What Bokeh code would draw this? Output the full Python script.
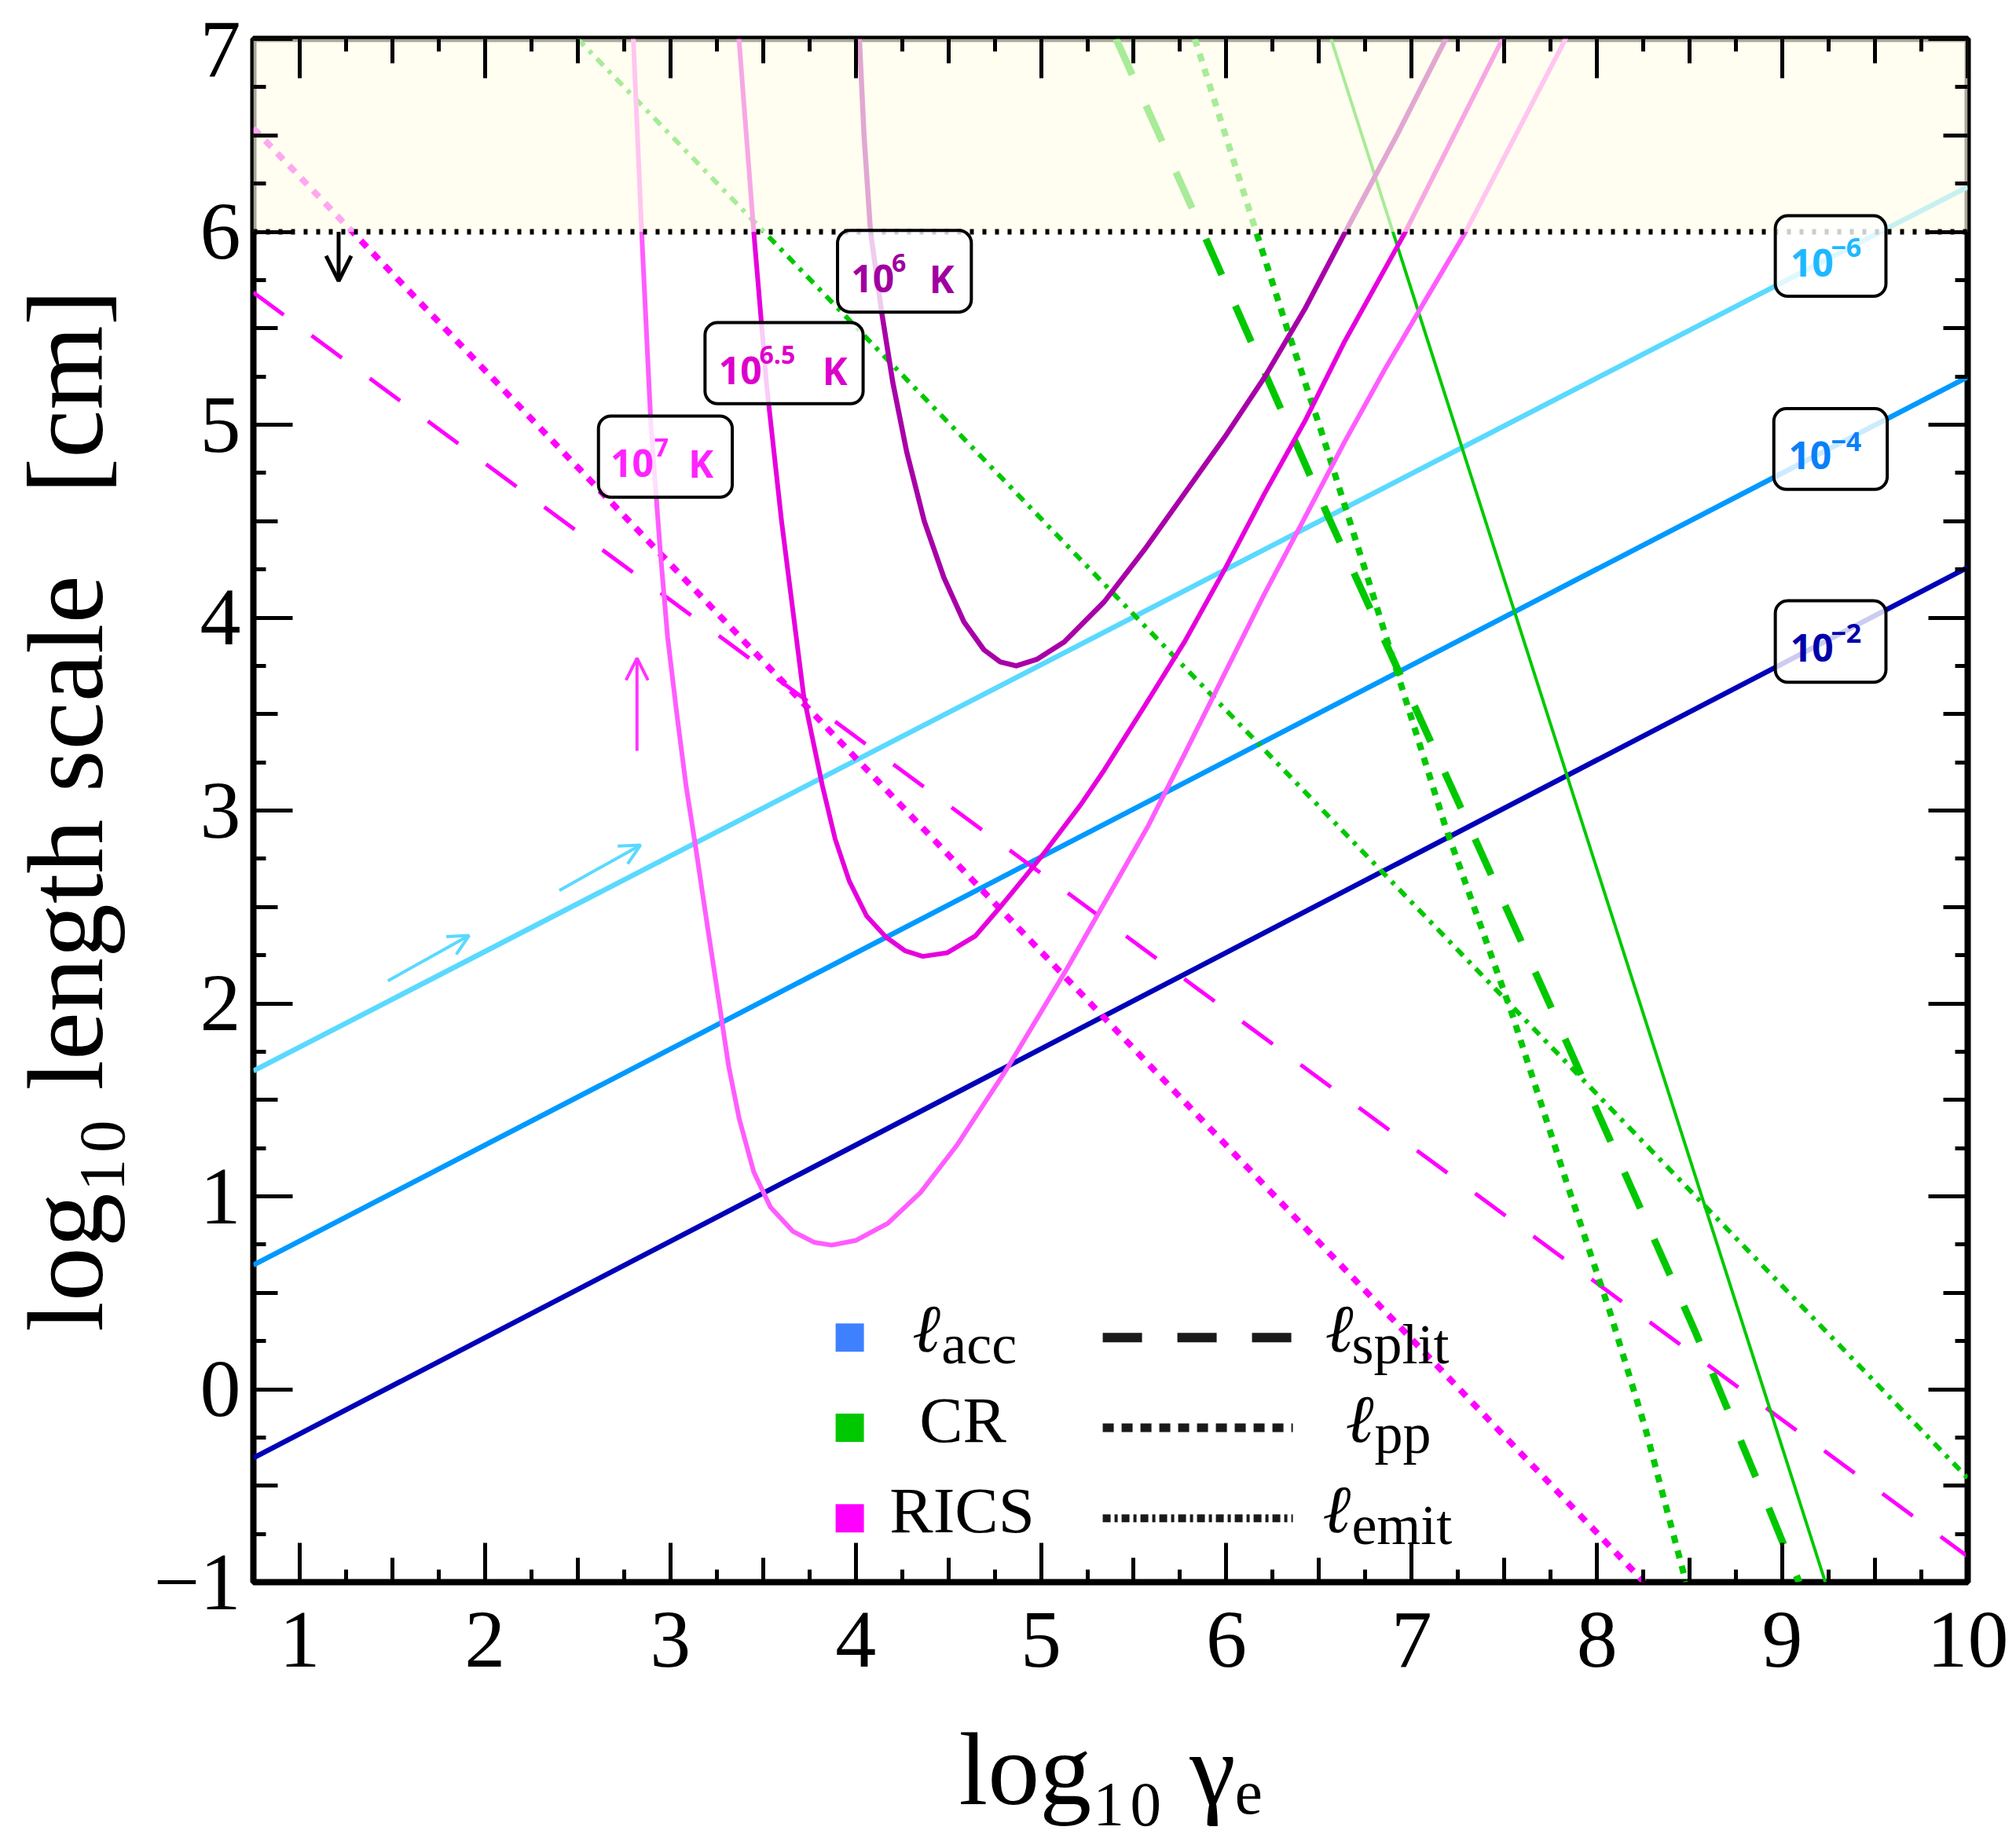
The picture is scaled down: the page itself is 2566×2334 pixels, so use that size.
import numpy as np
from bokeh.plotting import figure
from bokeh.models import (Range1d, LinearAxis, FixedTicker, BoxAnnotation,
                          Span, Label, Arrow, OpenHead)
from bokeh.embed import file_html
from bokeh.resources import INLINE

# ---------------- data ----------------
x_tick_values = [1, 2, 3, 4, 5, 6, 7, 8, 9, 10]
y_tick_values = [-1, 0, 1, 2, 3, 4, 5, 6, 7]
y_top_label_pos = 6.945      # the "7" label is nudged just under the top edge

# l_acc for three efficiencies (straight lines)
acc_x = [0.75, 10.0]
acc_em6_y = [1.65, 6.233]
acc_em4_y = [0.644, 5.247]
acc_em2_y = [-0.356, 4.26]

# CR (green)
cr_acc_x = [6.565, 9.232]
cr_acc_y = [7.0, -1.0]
cr_split_x = [5.405, 5.904, 6.552, 7.309, 7.738, 8.527, 8.922, 9.09]
cr_split_y = [7.0, 5.932, 4.519, 2.922, 2.01, 0.305, -0.605, -1.0]
cr_pp_x = [5.83, 6.163, 6.336, 6.509, 6.769, 6.985, 7.18, 7.54, 7.84, 8.07, 8.26, 8.48]
cr_pp_y = [7.0, 5.994, 5.474, 4.976, 4.186, 3.521, 2.922, 1.95, 1.06, 0.40, -0.2, -1.0]
cr_emit_x = [2.50, 10.0]
cr_emit_y = [7.0, -0.46]

# RICS (magenta)
rics_pp_x = [0.75, 8.254]
rics_pp_y = [6.537, -1.0]
rics_split_x = [0.75, 10.0]
rics_split_y = [5.685, -0.867]

rics_T7_x = [2.79, 2.80, 2.845, 2.895, 2.945, 2.985, 3.035, 3.085, 3.135, 3.20, 3.258,
             3.315, 3.372, 3.45, 3.54, 3.662, 3.775, 3.870, 4.003, 4.173, 4.35, 4.55,
             4.815, 5.14, 5.579, 5.774, 5.99, 6.206, 6.423, 6.639, 6.855, 7.071,
             7.288, 7.83, 7.88]
rics_T7_y = [7.2, 7.0, 6.0, 5.0, 4.35, 3.9, 3.5, 3.126, 2.82, 2.4, 2.035,
             1.672, 1.4, 1.126, 0.944, 0.818, 0.762, 0.747, 0.772, 0.86, 1.02, 1.27,
             1.66, 2.18, 2.922, 3.292, 3.708, 4.124, 4.518, 4.913, 5.287, 5.641,
             5.994, 7.0, 7.1]

rics_T65_x = [3.36, 3.37, 3.45, 3.52, 3.60, 3.72, 3.82, 3.889, 3.965, 4.059, 4.163,
              4.268, 4.362, 4.495, 4.646, 4.78, 4.912, 5.025, 5.214, 5.341, 5.558,
              5.774, 5.99, 6.206, 6.423, 6.639, 6.963, 7.49, 7.54]
rics_T65_y = [7.1, 7.0, 6.0, 5.2, 4.5, 3.59, 3.13, 2.853, 2.635, 2.453, 2.344,
              2.272, 2.244, 2.263, 2.35, 2.50, 2.654, 2.79, 3.03, 3.21, 3.54,
              3.874, 4.248, 4.643, 5.017, 5.433, 5.994, 7.0, 7.1]

rics_T6_x = [4.015, 4.02, 4.045, 4.08, 4.14, 4.20, 4.275, 4.37, 4.476, 4.584,
             4.692, 4.78, 4.866, 4.98, 5.125, 5.341, 5.558, 5.774, 5.99, 6.206,
             6.423, 6.639, 6.92, 7.205, 7.26]
rics_T6_y = [7.1, 7.0, 6.5, 6.0, 5.584, 5.22, 4.86, 4.5, 4.207, 3.978,
             3.833, 3.77, 3.75, 3.785, 3.874, 4.082, 4.352, 4.643, 4.934, 5.246,
             5.599, 5.994, 6.5, 7.04, 7.14]

# arrows (x_start, y_start, x_end, y_end)
arrow_black = (1.21, 6.0, 1.21, 5.745)
arrow_magenta = (2.82, 3.31, 2.82, 3.79)
arrows_cyan = [(1.476, 2.117, 1.914, 2.352), (2.401, 2.586, 2.839, 2.821)]

# curve label boxes: (left, right, bottom, top)
box_T7 = (2.612, 3.334, 4.624, 5.045)
box_T65 = (3.187, 4.040, 5.109, 5.530)
box_T6 = (3.902, 4.624, 5.584, 6.007)
box_em6 = (8.962, 9.559, 5.666, 6.083)
box_em4 = (8.954, 9.566, 4.665, 5.083)
box_em2 = (8.962, 9.559, 3.665, 4.088)

# legend
legend_rows = [0.268, -0.2, -0.669]
legend_square_x = 3.968
legend_square_colors = ["#3F80FF", "#00C800", "#FF00FF"]
legend_line_x = [5.333, 6.359]

# ---------------- styling ----------------
C_EM6 = "#5AD9FF"
C_EM4 = "#0099FF"
C_EM2 = "#0000B8"
C_CR = "#00C800"
C_RICS = "#FF00FF"
C_T7 = "#FF5CFF"
C_T65 = "#E600DE"
C_T6 = "#A800A8"

SERIF = "Liberation Serif"
PX_PER_Y = 245.5   # frame pixels per data unit in y (1964 px / 8)

p = figure(width=2560, height=2334,
           x_range=Range1d(0.75, 10.0), y_range=Range1d(-1.0, 7.0),
           output_backend="svg", toolbar_location=None,
           min_border_left=322, min_border_right=56,
           min_border_top=49, min_border_bottom=321)
p.grid.visible = False
p.background_fill_color = "white"
p.border_fill_color = "white"
p.outline_line_color = "black"
p.outline_line_width = 8

x_half = [v + 0.5 for v in x_tick_values[:-1]]
x_quarter = [v + 0.25 for v in x_tick_values[:-1]] + [v + 0.75 for v in x_tick_values[:-1]]
y_half = [v + 0.5 for v in y_tick_values[:-1]]
y_quarter = [v + 0.25 for v in y_tick_values[:-1]] + [v + 0.75 for v in y_tick_values[:-1]]


def style_main(ax, ticks, halves):
    ax.ticker = FixedTicker(ticks=ticks, minor_ticks=halves)
    ax.major_tick_in = 50
    ax.major_tick_out = 0
    ax.minor_tick_in = 31
    ax.minor_tick_out = 0
    ax.major_tick_line_width = 5
    ax.minor_tick_line_width = 5
    ax.major_tick_line_color = "black"
    ax.minor_tick_line_color = "black"
    ax.axis_line_color = None
    ax.level = "overlay"


# main labelled x axis
xa = p.xaxis[0]
style_main(xa, x_tick_values, x_half)
xa.major_label_text_font = SERIF
xa.major_label_text_font_size = "104px"
xa.major_label_text_color = "black"
xa.major_label_standoff = 39
xa.axis_label = "log\u2081\u2080 \u03b3\u2091"
xa.axis_label_text_font = SERIF
xa.axis_label_text_font_size = "132px"
xa.axis_label_text_font_style = "normal"
xa.axis_label_text_color = "black"
xa.axis_label_standoff = 54

# main y axis carries only the labels; its tick marks come from a fixed axis
y_label_ticks = y_tick_values[:-1] + [y_top_label_pos]
ya = p.yaxis[0]
ya.ticker = FixedTicker(ticks=y_label_ticks)
ya.major_tick_line_color = None
ya.minor_tick_line_color = None
ya.major_tick_in = 0
ya.major_tick_out = 0
ya.axis_line_color = None
ya.major_label_text_font = SERIF
ya.major_label_text_font_size = "104px"
ya.major_label_text_color = "black"
ya.major_label_standoff = 16
ya.major_label_overrides = {-1: "\u22121", y_top_label_pos: "7"}
ya.axis_label = "log\u2081\u2080 length scale \u2002[cm]"
ya.axis_label_text_font = SERIF
ya.axis_label_text_font_size = "138px"
ya.axis_label_text_font_style = "normal"
ya.axis_label_text_color = "black"
ya.axis_label_standoff = 33
ya.level = "overlay"

# tick-mark axes: left (integers + halves), top and right mirrors
for side, loc, ticks, halves in [("left", 0.75, y_tick_values, y_half),
                                 ("above", 7.0, x_tick_values, x_half),
                                 ("right", 10.0, y_tick_values, y_half)]:
    ax = LinearAxis(fixed_location=loc)
    style_main(ax, ticks, halves)
    ax.major_label_text_color = None
    p.add_layout(ax, side)

# quarter ticks on all four sides
for side, loc, q in [("below", -1.0, x_quarter), ("above", 7.0, x_quarter),
                     ("left", 0.75, y_quarter), ("right", 10.0, y_quarter)]:
    ax = LinearAxis(fixed_location=loc, ticker=FixedTicker(ticks=q))
    ax.major_tick_in = 16
    ax.major_tick_out = 0
    ax.major_tick_line_width = 5
    ax.minor_tick_line_color = None
    ax.axis_line_color = None
    ax.major_label_text_color = None
    ax.level = "overlay"
    p.add_layout(ax, side)

# ---------------- curves ----------------
p.line(acc_x, acc_em6_y, line_color=C_EM6, line_width=6.5)
p.line(acc_x, acc_em4_y, line_color=C_EM4, line_width=6.5)
p.line(acc_x, acc_em2_y, line_color=C_EM2, line_width=6.5)

p.line(rics_split_x, rics_split_y, line_color=C_RICS, line_width=5, line_dash="48 44")
p.line(rics_pp_x, rics_pp_y, line_color=C_RICS, line_width=8, line_dash="11 11")

p.line(cr_emit_x, cr_emit_y, line_color=C_CR, line_width=6, line_dash="12 9 5 9")
p.line(cr_pp_x, cr_pp_y, line_color=C_CR, line_width=8, line_dash="10 10")
p.line(cr_split_x, cr_split_y, line_color=C_CR, line_width=9, line_dash="50 43")
p.line(cr_acc_x, cr_acc_y, line_color=C_CR, line_width=4)

p.line(rics_T7_x, rics_T7_y, line_color=C_T7, line_width=6, line_join="round")
p.line(rics_T65_x, rics_T65_y, line_color=C_T65, line_width=6, line_join="round")
p.line(rics_T6_x, rics_T6_y, line_color=C_T6, line_width=6.5, line_join="round")

# ---------------- shaded region above 6 ----------------
p.add_layout(BoxAnnotation(left=0.75, right=10.0, bottom=6.0, top=7.0,
                           fill_color="#FFFDE8", fill_alpha=0.66,
                           line_color=None))
p.add_layout(Span(location=6.0, dimension="width", line_color="black",
                  line_width=7, line_dash="5 11"))

# ---------------- arrows ----------------
def add_arrow(a, color, width, size):
    p.add_layout(Arrow(x_start=a[0], y_start=a[1], x_end=a[2], y_end=a[3],
                       line_color=color, line_width=width,
                       end=OpenHead(size=size, line_color=color, line_width=width)))

add_arrow(arrow_black, "black", 5, 32)
add_arrow(arrow_magenta, "#FF33FF", 4, 28)
for a in arrows_cyan:
    add_arrow(a, C_EM6, 4, 26)

# ---------------- curve label boxes ----------------
BOXFONT = "Open Sans"


def add_box(b):
    p.add_layout(BoxAnnotation(left=b[0], right=b[1], bottom=b[2], top=b[3],
                               fill_color="white", fill_alpha=0.8,
                               line_color="black", line_alpha=1.0, line_width=4,
                               border_radius=16))


def txt(x, y, s, size, color, font=BOXFONT, style="bold", align="left"):
    # y is the wanted baseline; lift by the renderer's descent offset
    px = float(size.replace("px", ""))
    p.add_layout(Label(x=x, y=y + 0.225 * px / PX_PER_Y, text=s, text_font=font,
                       text_font_size=size, text_font_style=style,
                       text_color=color, text_align=align,
                       text_baseline="alphabetic"))


for b in [box_T7, box_T65, box_T6, box_em6, box_em4, box_em2]:
    add_box(b)

txt(2.677, 4.758, "10", "48px", "#FF22FF")
txt(2.913, 4.851, "7", "32px", "#FF22FF")
txt(3.098, 4.758, "K", "48px", "#FF22FF")

txt(3.261, 5.237, "10", "48px", "#DD00CC")
txt(3.480, 5.333, "6.5", "32px", "#DD00CC")
txt(3.820, 5.237, "K", "48px", "#DD00CC")

txt(3.975, 5.713, "10", "48px", "#A000A0")
txt(4.194, 5.808, "6", "32px", "#A000A0")
txt(4.397, 5.713, "K", "48px", "#A000A0")

txt(9.043, 5.796, "10", "48px", "#1EB8FF")
txt(9.262, 5.886, "\u22126", "34px", "#1EB8FF")
txt(9.033, 4.796, "10", "48px", "#0A80F8")
txt(9.262, 4.881, "\u22124", "34px", "#0A80F8")
txt(9.043, 3.800, "10", "48px", "#0000AA")
txt(9.262, 3.888, "\u22122", "34px", "#0000AA")

# ---------------- legend ----------------
p.scatter([legend_square_x] * 3, legend_rows, marker="square", size=36,
          fill_color=legend_square_colors, line_color=None)
p.line(legend_line_x, [legend_rows[0]] * 2, line_color="#1A1A1A", line_width=12, line_dash="50 45")
p.line(legend_line_x, [legend_rows[1]] * 2, line_color="#1A1A1A", line_width=11, line_dash="14 10")
p.line(legend_line_x, [legend_rows[2]] * 2, line_color="#1A1A1A", line_width=10, line_dash="10 5 4 5")

base = -0.034   # baseline of main legend text below row centre
sub = -0.10     # baseline of subscripts
txt(4.305, legend_rows[0] + base, "\u2113", "86px", "black", font=SERIF, style="italic")
txt(4.463, legend_rows[0] + sub, "acc", "72px", "black", font=SERIF, style="normal")
txt(4.578, legend_rows[1] + base, "CR", "83px", "black", font=SERIF, style="normal", align="center")
txt(4.574, legend_rows[2] + base, "RICS", "83px", "black", font=SERIF, style="normal", align="center")

txt(6.532, legend_rows[0] + base, "\u2113", "86px", "black", font=SERIF, style="italic")
txt(6.676, legend_rows[0] + sub, "split", "72px", "black", font=SERIF, style="normal")
txt(6.642, legend_rows[1] + base, "\u2113", "86px", "black", font=SERIF, style="italic")
txt(6.799, legend_rows[1] + sub, "pp", "72px", "black", font=SERIF, style="normal")
txt(6.519, legend_rows[2] + base, "\u2113", "86px", "black", font=SERIF, style="italic")
txt(6.676, legend_rows[2] + sub, "emit", "72px", "black", font=SERIF, style="normal")

open("out.html", "w").write(file_html(p, INLINE))
